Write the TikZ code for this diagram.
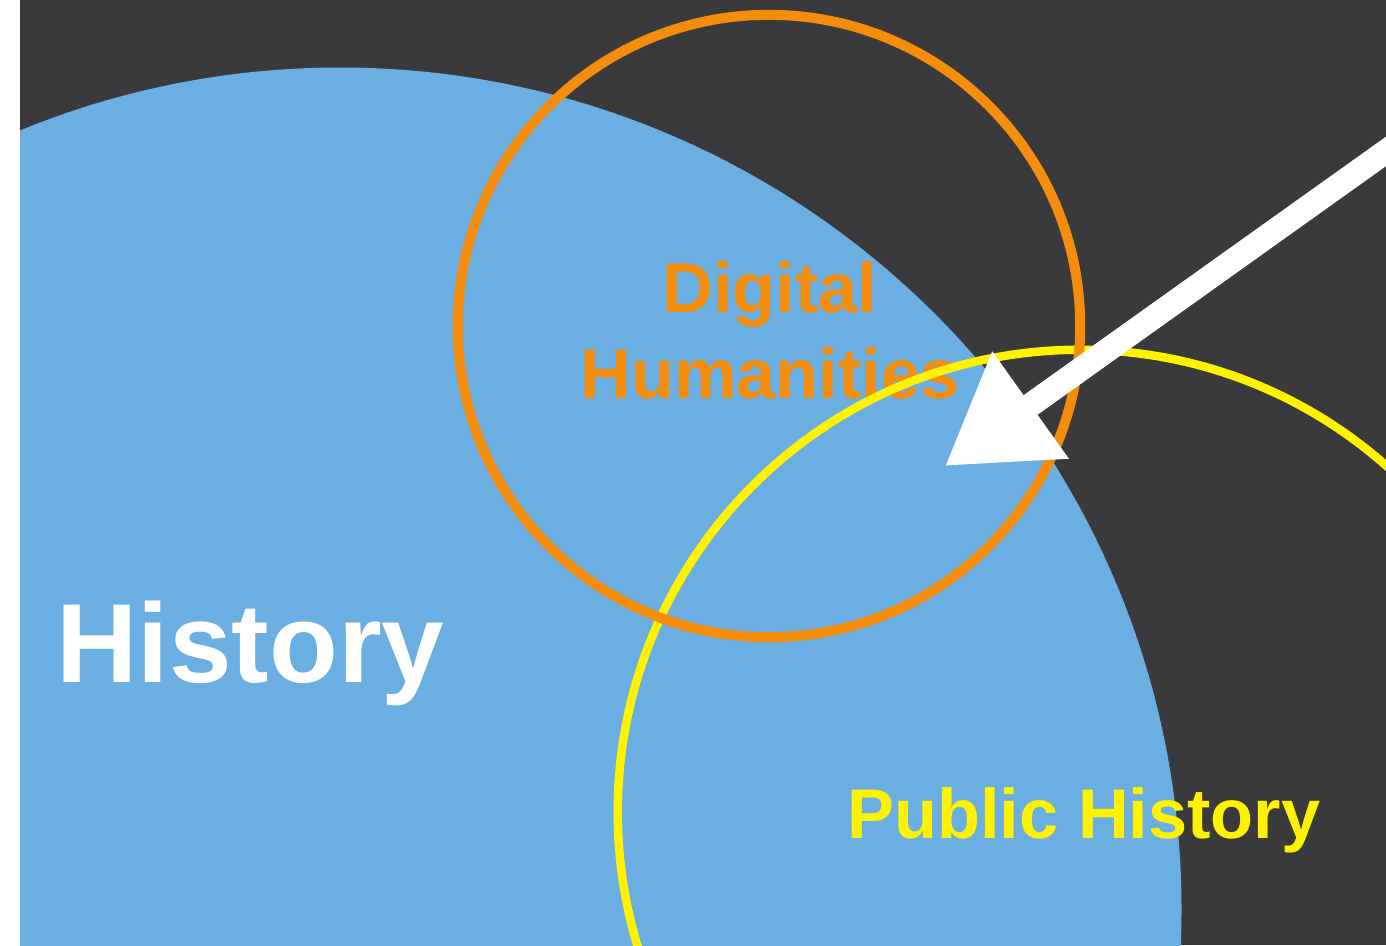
\documentclass[tikz,border=0pt]{standalone}
\usepackage{fontspec}
\setmainfont{Liberation Sans}
\usetikzlibrary{arrows.meta}

\definecolor{board}{RGB}{58,58,60}
\definecolor{histblue}{RGB}{106,174,226}
\definecolor{dhorange}{RGB}{244,140,12}
\definecolor{phyellow}{RGB}{255,242,0}

\begin{document}
\begin{tikzpicture}[x = 0.01cm, y = -0.01cm,
    every node/.style = {inner sep = 0pt, font = \bfseries},
    ring/.style = {draw, fill = none}]
        \useasboundingbox (0,0) rectangle (1386,945);
        \fill[white] (0,0) rectangle (1386,945);
        \begin{scope}
            \clip (20,0) rectangle (1386,945);
            \fill[board] (20,0) rectangle (1386,945);
            % the three fields
            \fill[histblue] (340,909) circle[radius = 8.41cm];
            \node[text = dhorange, align = center, anchor = north,
                font = \bfseries\fontsize{20}{24.5}\selectfont]
                (dh) at (770,261) {Digital\\Humanities};
            \draw[ring, phyellow, line width = 0.085cm] (1080,812) circle[radius = 4.62cm];
            \draw[ring, dhorange, line width = 0.10cm] (769,326) circle[radius = 3.11cm];
            \node[text = white, anchor = base west,
                font = \bfseries\fontsize{32}{38}\selectfont]
                (history) at (56,682) {History};
            \node[text = phyellow, anchor = base,
                font = \bfseries\fontsize{20}{24}\selectfont]
                (ph) at (1084,838) {Public History};
            % pointer
            \coordinate (arrowstart) at (1430,120);
            \coordinate (arrowtip) at (945,466);
            \draw[white, line width = 0.24cm,
                -{Triangle[length = 1.05cm, width = 1.25cm]}] (arrowstart) -- (arrowtip);
        \end{scope}
\end{tikzpicture}
\end{document}
